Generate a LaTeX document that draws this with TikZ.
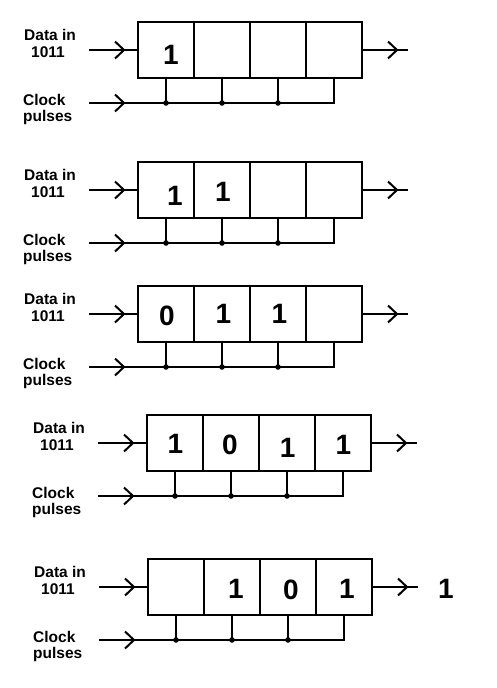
\documentclass[tikz,border=0pt]{standalone}
\usepackage{fontspec}
\setmainfont{Liberation Sans}
\usetikzlibrary{calc}
\tikzset{
  wire/.style={line width=2pt, line cap=butt},
  cell/.style={draw, line width=2pt, minimum width=56pt, minimum height=56pt, inner sep=0pt, outer sep=0pt},
  lbl/.style={anchor=base west, inner sep=0pt, font=\fontsize{15.5}{17}\selectfont\bfseries},
  dig/.style={inner sep=0pt, font=\fontsize{28}{30}\selectfont\bfseries},
  tapdot/.style={fill=black},
}
\newcommand\chevron[1]{\draw[wire] (#1) ++(-9,-8.5) -- (#1) -- ++(-9,8.5);}
\newcommand\regpanel[3]{%
  \begin{scope}[shift={(#2,#3)}]
    \node[cell] (p#1c1) at (166,50) {};
    \node[cell] (p#1c2) at (222,50) {};
    \node[cell] (p#1c3) at (278,50) {};
    \node[cell] (p#1c4) at (334,50) {};
    \coordinate (p#1din) at (89,50);
    \coordinate (p#1dout) at (408,50);
    \coordinate (p#1clk) at (89,103);
    \coordinate (p#1a1) at (124,50);
    \coordinate (p#1a2) at (397,50);
    \coordinate (p#1a3) at (124,103);
    \draw[wire] (p#1din) -- (p#1c1.west);
    \draw[wire] (p#1c4.east) -- (p#1dout);
    \draw[wire] (p#1clk) -| (p#1c4.south);
    \foreach \k in {1,2,3} {
      \draw[wire] (p#1c\k.south) -- (p#1c\k.south |- p#1clk);
      \fill[tapdot] (p#1c\k.south |- p#1clk) circle (2.8);
    }
    \chevron{p#1a1}
    \chevron{p#1a2}
    \chevron{p#1a3}
    \node[lbl] (p#1l1) at (24,40.7) {Data in};
    \node[lbl] (p#1l2) at (31,57.3) {1011};
    \node[lbl] (p#1l3) at (23,105) {Clock};
    \node[lbl] (p#1l4) at (23,121) {pulses};
  \end{scope}}
\begin{document}
\begin{tikzpicture}[x=1pt, y=-1pt]
  \useasboundingbox (0,0) rectangle (496,688);
  \regpanel{1}{0}{0}
  \regpanel{2}{0}{140}
  \regpanel{3}{0}{264}
  \regpanel{4}{9}{393}
  \regpanel{5}{10}{537}
  % panel 1
  \node[dig] (d11) at ($(p1c1)+(5,5.3)$) {1};
  % panel 2
  \node[dig] (d21) at ($(p2c1)+(9,5.5)$) {1};
  \node[dig] (d22) at ($(p2c2)+(1,2)$) {1};
  % panel 3
  \node[dig] (d31) at ($(p3c1)+(1,1.8)$) {0};
  \node[dig] (d32) at ($(p3c2)+(1.5,-0.2)$) {1};
  \node[dig] (d33) at ($(p3c3)+(1.5,-0.2)$) {1};
  % panel 4
  \node[dig] (d41) at ($(p4c1)+(0.5,0.5)$) {1};
  \node[dig] (d42) at ($(p4c2)+(-1,1.8)$) {0};
  \node[dig] (d43) at ($(p4c3)+(0.7,5.3)$) {1};
  \node[dig] (d44) at ($(p4c4)+(0.5,1.5)$) {1};
  % panel 5
  \node[dig] (d52) at ($(p5c2)+(4,1.8)$) {1};
  \node[dig] (d53) at ($(p5c3)+(3,3)$) {0};
  \node[dig] (d54) at ($(p5c4)+(3,1.8)$) {1};
  \node[dig] (dout) at (446,588.8) {1};
\end{tikzpicture}
\end{document}
